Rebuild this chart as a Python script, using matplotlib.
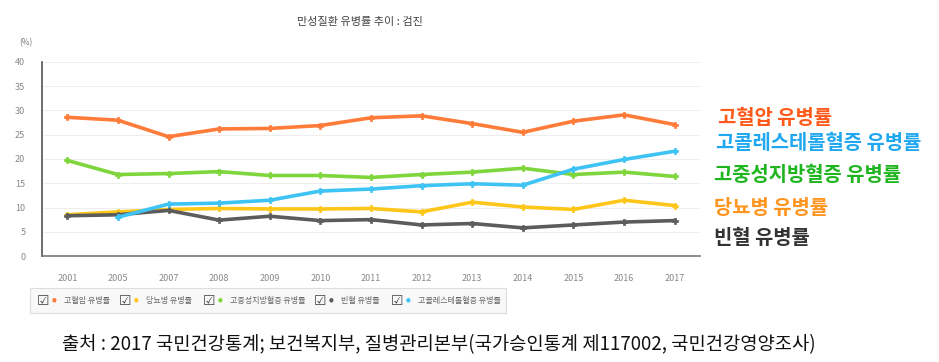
import matplotlib
matplotlib.use("Agg")
import matplotlib.pyplot as plt
from matplotlib.patches import Rectangle
import numpy as np

plt.rcParams['font.family'] = ['Noto Sans CJK KR', 'DejaVu Sans']

years = ['2001', '2005', '2007', '2008', '2009', '2010', '2011', '2012', '2013', '2014', '2015', '2016', '2017']
hypertension = [28.6, 28.0, 24.6, 26.2, 26.3, 26.9, 28.5, 28.9, 27.3, 25.5, 27.8, 29.1, 27.1]
diabetes = [8.5, 9.1, 9.6, 9.8, 9.7, 9.7, 9.8, 9.1, 11.1, 10.1, 9.6, 11.5, 10.4]
triglyceride = [19.7, 16.8, 17.0, 17.4, 16.6, 16.6, 16.2, 16.8, 17.3, 18.1, 16.8, 17.3, 16.4]
anemia = [8.3, 8.5, 9.4, 7.4, 8.2, 7.3, 7.5, 6.4, 6.7, 5.8, 6.4, 7.0, 7.3]
cholesterol = [np.nan, 8.0, 10.7, 10.9, 11.5, 13.4, 13.8, 14.5, 14.9, 14.6, 17.9, 19.9, 21.6]

names = ['고혈압 유병률', '당뇨병 유병률', '고중성지방혈증 유병률', '빈혈 유병률', '고콜레스테롤혈증 유병률']
line_colors = ['#ff7b39', '#ffc61a', '#7ed63c', '#5c5c5c', '#3ec3f5']
series = [hypertension, diabetes, triglyceride, anemia, cholesterol]

W, H = 939, 362
fig = plt.figure(figsize=(W / 100, H / 100), dpi=100)
ax = fig.add_axes([42 / W, 1 - 256 / H, 658 / W, 194 / H])

x = np.arange(len(years))
for vals, c in zip(series, line_colors):
    ax.plot(x, vals, color=c, lw=2.6, marker='P', markersize=5,
            markeredgecolor=c, markeredgewidth=0.5, zorder=3)

ax.set_xlim(-0.5, 12.5)
ax.set_ylim(0, 40)
ax.set_yticks(range(0, 41, 5))
ax.set_xticks(x)
ax.set_xticklabels(years)
ax.tick_params(axis='both', length=0, labelsize=6.5, labelcolor='#888888')
ax.tick_params(axis='x', pad=13)
ax.tick_params(axis='y', pad=12)
ax.grid(axis='y', color='#eeeeee', lw=0.8)
ax.set_axisbelow(True)
for s in ['top', 'right']:
    ax.spines[s].set_visible(False)
ax.spines['left'].set_color('#555555')
ax.spines['left'].set_linewidth(1.2)
ax.spines['bottom'].set_color('#777777')
ax.spines['bottom'].set_linewidth(1.2)

fig.text(360 / W, 1 - 22 / H, '만성질환 유병률 추이 : 검진', ha='center', va='center',
         fontsize=8, color='#444444')
fig.text(26 / W, 1 - 43 / H, '(%)', ha='center', va='center', fontsize=6, color='#777777')

# right-hand labels
label_order = [('고혈압 유병률', '#ff5a1a', 718, 117),
               ('고콜레스테롤혈증 유병률', '#1fa8ef', 716, 143),
               ('고중성지방혈증 유병률', '#1fb51f', 714, 175),
               ('당뇨병 유병률', '#ff951f', 714, 207),
               ('빈혈 유병률', '#333333', 714, 237)]
for txt, c, px, py in label_order:
    fig.text(px / W, 1 - py / H, txt, ha='left', va='center', fontsize=14.3,
             fontweight='bold', color=c)

# legend box
fig.patches.append(Rectangle((30 / W, 1 - 313 / H), 476 / W, 25 / H,
                             transform=fig.transFigure, facecolor='#f8f8f8',
                             edgecolor='#dddddd', lw=0.8))
box_x = [43, 125, 209, 320, 397]
for bx, name, c in zip(box_x, names, line_colors):
    fig.text(bx / W, 1 - 301 / H, '☑', ha='center', va='center', fontsize=10,
             color='#444444', family=['DejaVu Sans'])
    fig.text((bx + 11) / W, 1 - 300 / H, '●', ha='center', va='center', fontsize=4,
             color=c, family=['DejaVu Sans'])
    fig.text((bx + 21) / W, 1 - 300 / H, name, ha='left', va='center', fontsize=5.8,
             color='#666666')

fig.text(62 / W, 1 - 345 / H,
         '출처 : 2017 국민건강통계; 보건복지부, 질병관리본부(국가승인통계 제117002, 국민건강영양조사)',
         ha='left', va='center', fontsize=13.5, color='#111111')

fig.savefig('out.png', dpi=100, facecolor='white')
